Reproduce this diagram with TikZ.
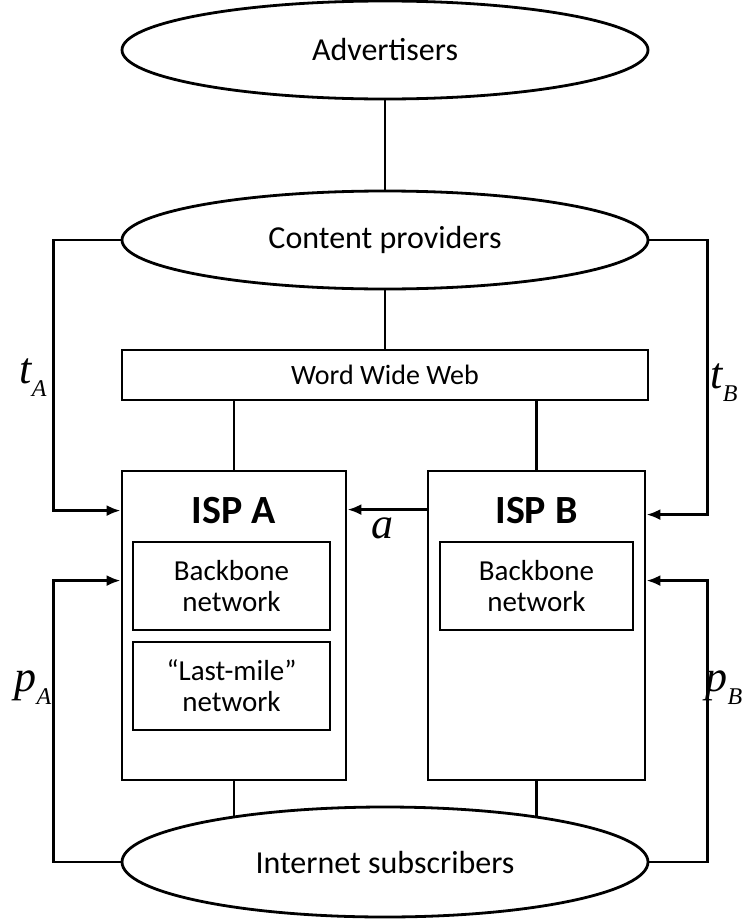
\documentclass[tikz,border=0pt]{standalone}
\usepackage{fontspec}
\setmainfont{Carlito}
\newfontfamily\timesfont{Liberation Serif}
\usetikzlibrary{shapes.geometric,arrows.meta,calc,backgrounds}
\newcommand{\price}[2]{{\timesfont\itshape\fontsize{22}{22}\selectfont #1\raisebox{-0.3em}{\fontsize{12}{12}\selectfont #2}}}

\begin{document}
\begin{tikzpicture}[x=0.5pt, y=-0.5pt, line width=1.4pt,
  party/.style={draw, ellipse, fill=white, minimum width=263pt, inner sep=0pt, font=\fontsize{16}{19}\selectfont},
  isp/.style={draw, rectangle, minimum height=154.5pt},
  part/.style={draw, rectangle, minimum height=44pt, align=center, font=\fontsize{14.5}{15.5}\selectfont},
  title/.style={font=\bfseries\fontsize{20}{20}\selectfont},
  link/.style={line width=1.4pt},
  pay/.style={-{Latex[length=7pt,width=5.5pt]}}]
  \useasboundingbox (0,0) rectangle (749,921);

  % sides of the market
  \node[party, minimum height=49pt] (adv) at (385,50) {Advertisers};
  \node[party, minimum height=49pt] (cp) at (385,240) {Content providers};
  \node[party, minimum height=55pt] (sub) at (385,862) {Internet subscribers};
  \node[draw, minimum width=263pt, minimum height=25pt, font=\fontsize{14}{16}\selectfont] (www) at (385,375) {Word Wide Web};

  % the two ISPs
  \node[isp, minimum width=112pt] (ispA) at (234,625.5) {};
  \node[isp, minimum width=108.5pt] (ispB) at (536.5,625.5) {};
  \node[title] (ispAname) at ($(ispA.north)+(0,41)$) {ISP A};
  \node[title] (ispBname) at ($(ispB.north)+(0,41)$) {ISP B};
  \node[part, minimum width=98.5pt] (bbA) at (231.5,586) {Backbone\\network};
  \node[part, minimum width=98.5pt] (lmA) at (231.5,686) {“Last-mile”\\network};
  \node[part, minimum width=96.5pt] (bbB) at (536.5,586) {Backbone\\network};

  \begin{scope}[on background layer]
    \draw[link] (adv) -- (cp);
    \draw[link] (cp) -- (www);
    \draw[link] (ispA.north |- www.south) -- (ispA.north);
    \draw[link] (ispB.north |- www.south) -- (ispB.north);
    \draw[link] (ispA.south) -- (ispA.south |- sub.center);
    \draw[link] (ispB.south) -- (ispB.south |- sub.center);
  \end{scope}

  % payments
  \draw[pay] (cp.west) -- ++(-67,0) |- ($(ispA.north west)+(0,41)$);
  \draw[pay] (cp.east) -- ++(58,0) |- ($(ispB.north east)+(0,45)$);
  \draw[pay] ($(ispB.north west)+(0,40)$) -- ($(ispA.north east)+(0,40)$);
  \draw[pay] (sub.west) -- ++(-67,0) |- ($(ispA.north west)+(0,111)$);
  \draw[pay] (sub.east) -- ++(58,0) |- ($(ispB.north east)+(0,111)$);

  \node (tA) at (33,378) {\price{t}{A}};
  \node (tB) at (724,383) {\price{t}{B}};
  \node (pA) at (33,688) {\price{p}{A}};
  \node (pB) at (724,688) {\price{p}{B}};
  \node[font=\timesfont\itshape\fontsize{22}{22}\selectfont] (a) at (382,528) {a};
\end{tikzpicture}
\end{document}
